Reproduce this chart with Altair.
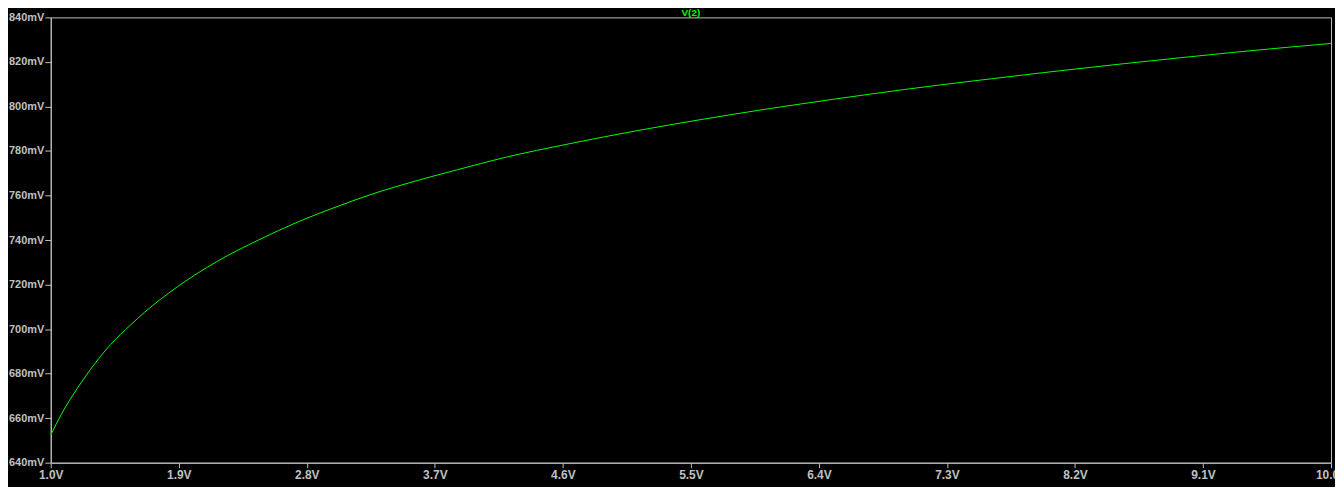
import altair as alt
import pandas as pd

# Sweep of the source voltage (V) and the node voltage V(2) (mV)
source_v = [1.00, 1.075, 1.19, 1.31, 1.42, 1.56, 1.66, 1.77, 1.89, 2.01,
            2.18, 2.46, 2.74, 3.02, 3.30, 3.58, 3.86, 4.18, 4.65, 5.12,
            5.58, 6.05, 6.51, 7.00, 7.49, 7.98, 8.47, 8.96, 9.38, 10.0]
node_mv = [652.5, 661.8, 673.7, 684.5, 693.0, 701.8, 707.6, 713.3, 719.0, 724.2,
           730.8, 740.0, 748.2, 755.2, 761.5, 766.8, 771.6, 776.9, 783.3, 789.1,
           794.2, 799.0, 803.3, 807.6, 811.5, 815.2, 818.7, 822.0, 824.7, 828.3]

x_ticks = [1.0, 1.9, 2.8, 3.7, 4.6, 5.5, 6.4, 7.3, 8.2, 9.1, 10.0]
y_ticks = [640, 660, 680, 700, 720, 740, 760, 780, 800, 820, 840]
trace_name = "V(2)"

df = pd.DataFrame({"vs": source_v, "v2": node_mv})

GRAY = "#c0c0c0"
GREEN = "#00ff00"
FONT = "Liberation Sans"

W, H = 1288, 448

line = alt.Chart(df).mark_line(color=GREEN, strokeWidth=1, interpolate="monotone").encode(
    x=alt.X("vs:Q",
            scale=alt.Scale(domain=[1, 10], nice=False, zero=False),
            axis=alt.Axis(values=x_ticks, labelExpr="format(datum.value, '.1f') + 'V'",
                          title=None, grid=False, domainColor=GRAY, tickColor=GRAY,
                          tickSize=5, labelColor=GRAY, labelFont=FONT, labelFontSize=12,
                          labelFontWeight="bold", labelPadding=2, labelFlush=False,
                          labelOverlap=False)),
    y=alt.Y("v2:Q",
            scale=alt.Scale(domain=[640, 840], nice=False, zero=False),
            axis=alt.Axis(values=y_ticks, labelExpr="datum.value + 'mV'",
                          title=None, grid=False, domainColor=GRAY, tickColor=GRAY,
                          tickSize=6, labelColor=GRAY, labelFont=FONT, labelFontSize=11,
                          labelFontWeight="bold", labelPadding=1, labelFlush=False,
                          labelOverlap=False)),
)

title_df = pd.DataFrame({"t": [trace_name]})
title = alt.Chart(title_df).mark_text(
    color=GREEN, font=FONT, fontSize=10, fontWeight="bold",
    align="center", baseline="alphabetic"
).encode(
    text="t:N",
    x=alt.value(W / 2),
    y=alt.value(-1.5),
)

chart = alt.layer(line, title).properties(
    width=W, height=H,
    background="black",
    padding={"left": 43, "top": 8, "right": 4, "bottom": 23},
    autosize=alt.AutoSizeParams(type="none"),
).configure_view(
    stroke=GRAY, strokeWidth=1, fill="black"
)

chart.save("out.html", embed_options={"renderer": "svg", "actions": False})
